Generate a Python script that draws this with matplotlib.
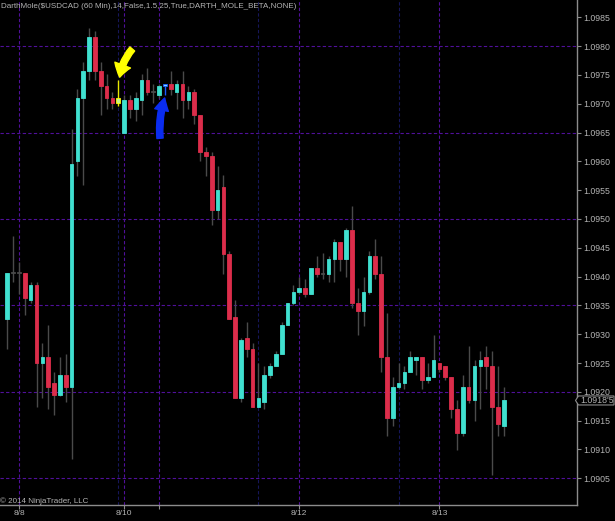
import matplotlib
matplotlib.use('Agg')
import matplotlib.pyplot as plt
from matplotlib.patches import Polygon
import numpy as np

plt.rcParams['font.family'] = ['Liberation Sans', 'DejaVu Sans']

# 60 min USDCAD bars
opens = [1.09326, 1.09406, 1.09406, 1.09406, 1.09359, 1.09385, 1.09250, 1.09260, 1.09215, 1.09194,
         1.09230, 1.09209, 1.09600, 1.09710, 1.09756, 1.09816, 1.09756, 1.09731, 1.09710, 1.09701,
         1.09650, 1.09706, 1.09691, 1.09706, 1.09741, 1.09721, 1.09715, 1.09731, 1.09735, 1.09721,
         1.09735, 1.09706, 1.09721, 1.09681, 1.09616, 1.09610, 1.09516, 1.09555, 1.09440, 1.09330,
         1.09189, 1.09294, 1.09274, 1.09173, 1.09183, 1.09230, 1.09245, 1.09265, 1.09316, 1.09355,
         1.09374, 1.09380, 1.09369, 1.09415, 1.09405, 1.09405, 1.09430, 1.09460, 1.09430, 1.09481,
         1.09355, 1.09340, 1.09374, 1.09436, 1.09405, 1.09260, 1.09154, 1.09209, 1.09215, 1.09235,
         1.09256, 1.09260, 1.09220, 1.09225, 1.09250, 1.09245, 1.09225, 1.09170, 1.09129, 1.09209,
         1.09185, 1.09245, 1.09260, 1.09245, 1.09174, 1.09140]
highs = [1.09406, 1.09471, 1.09426, 1.09406, 1.09390, 1.09390, 1.09285, 1.09316, 1.09235, 1.09260,
         1.09265, 1.09656, 1.09725, 1.09772, 1.09831, 1.09827, 1.09772, 1.09751, 1.09721, 1.09741,
         1.09715, 1.09715, 1.09721, 1.09751, 1.09762, 1.09735, 1.09735, 1.09735, 1.09757, 1.09741,
         1.09757, 1.09731, 1.09725, 1.09681, 1.09625, 1.09616, 1.09592, 1.09576, 1.09445, 1.09359,
         1.09294, 1.09321, 1.09285, 1.09250, 1.09245, 1.09250, 1.09270, 1.09321, 1.09355, 1.09385,
         1.09400, 1.09395, 1.09415, 1.09436, 1.09441, 1.09436, 1.09465, 1.09460, 1.09485, 1.09522,
         1.09380, 1.09400, 1.09445, 1.09465, 1.09436, 1.09336, 1.09225, 1.09250, 1.09245, 1.09270,
         1.09260, 1.09260, 1.09250, 1.09299, 1.09250, 1.09245, 1.09225, 1.09185, 1.09230, 1.09279,
         1.09256, 1.09270, 1.09279, 1.09270, 1.09245, 1.09209]
lows = [1.09274, 1.09390, 1.09369, 1.09334, 1.09355, 1.09173, 1.09189, 1.09170, 1.09160, 1.09193,
        1.09183, 1.09084, 1.09574, 1.09559, 1.09741, 1.09741, 1.09681, 1.09691, 1.09691, 1.09696,
        1.09650, 1.09676, 1.09670, 1.09680, 1.09715, 1.09701, 1.09710, 1.09715, 1.09715, 1.09691,
        1.09676, 1.09691, 1.09665, 1.09600, 1.09574, 1.09490, 1.09500, 1.09404, 1.09326, 1.09189,
        1.09183, 1.09260, 1.09173, 1.09173, 1.09170, 1.09224, 1.09245, 1.09265, 1.09316, 1.09350,
        1.09369, 1.09365, 1.09369, 1.09400, 1.09395, 1.09390, 1.09390, 1.09410, 1.09400, 1.09345,
        1.09299, 1.09314, 1.09369, 1.09395, 1.09235, 1.09123, 1.09140, 1.09205, 1.09205, 1.09235,
        1.09230, 1.09205, 1.09215, 1.09225, 1.09235, 1.09220, 1.09154, 1.09099, 1.09123, 1.09180,
        1.09149, 1.09170, 1.09205, 1.09055, 1.09123, 1.09123]
closes = [1.09406, 1.09406, 1.09406, 1.09363, 1.09385, 1.09250, 1.09260, 1.09209, 1.09194, 1.09230,
          1.09209, 1.09596, 1.09710, 1.09756, 1.09816, 1.09756, 1.09731, 1.09710, 1.09701, 1.09710,
          1.09706, 1.09691, 1.09710, 1.09741, 1.09721, 1.09721, 1.09731, 1.09735, 1.09725, 1.09735,
          1.09706, 1.09721, 1.09680, 1.09616, 1.09610, 1.09516, 1.09551, 1.09440, 1.09326, 1.09189,
          1.09290, 1.09274, 1.09173, 1.09189, 1.09230, 1.09245, 1.09265, 1.09316, 1.09355, 1.09374,
          1.09380, 1.09369, 1.09415, 1.09405, 1.09405, 1.09430, 1.09460, 1.09430, 1.09481, 1.09355,
          1.09340, 1.09374, 1.09436, 1.09405, 1.09260, 1.09154, 1.09209, 1.09215, 1.09235, 1.09260,
          1.09260, 1.09220, 1.09225, 1.09256, 1.09240, 1.09225, 1.09170, 1.09129, 1.09209, 1.09185,
          1.09245, 1.09256, 1.09245, 1.09174, 1.09144, 1.09185]

yellow_bar = 19
blue_bar = 27
last_price = 1.09185

date_ticks = [2, 20, 26, 50, 74]
date_labels = ['8/8', '8/10', '', '8/12', '8/13']
session_lines = [19, 43, 67]

bg = '#000000'
up_col = '#40e0d0'
dn_col = '#dc2d4b'
wick_col = '#4a4a4a'
grid_col = '#50109a'
sess_col = '#16165a'
txt_col = '#b4b4b4'
axis_col = '#8c8c8c'

fig = plt.figure(figsize=(6.15, 5.21), dpi=100, facecolor=bg)
ax = fig.add_axes([0, 16 / 521, 577 / 615, 505 / 521])
ax.set_facecolor(bg)

n = len(opens)
x = np.arange(n)
o = np.array(opens)
h = np.array(highs)
l = np.array(lows)
c = np.array(closes)

# grid
for yv in np.arange(1.0905, 1.0981, 0.0015):
    ax.axhline(yv, color=grid_col, lw=0.8, ls=(0, (3, 2)), zorder=0)
for xv in session_lines:
    ax.axvline(xv, color=sess_col, lw=0.8, ls=(0, (3, 2)), zorder=0)
for xv in date_ticks:
    ax.axvline(xv, color=grid_col, lw=0.8, ls=(0, (3, 2)), zorder=0)

# candles
wcols = [wick_col] * n
wcols[yellow_bar] = '#e8e800'
wcols[blue_bar] = '#1a5cff'
ax.vlines(x, l, h, colors=wcols, lw=1.0, zorder=2)

cols = np.where(c > o, up_col, np.where(c < o, dn_col, wick_col)).tolist()
edges = list(cols)
cols[yellow_bar] = '#c8f08c'
edges[yellow_bar] = '#ffff00'
cols[blue_bar] = '#7fd4ff'
edges[blue_bar] = '#1a5cff'
body = np.maximum(np.abs(c - o), 0.000012)
bottom = np.minimum(o, c)
ax.bar(x, body, bottom=bottom, width=0.62, color=cols, edgecolor=edges,
       linewidth=0.6, zorder=3)

# hand drawn arrows
ax.annotate('', xy=(19.25, 1.09746), xytext=(21.4, 1.09795),
            arrowprops=dict(arrowstyle='simple,head_length=0.9,head_width=1.2,tail_width=0.45',
                            color='#ffff00', mutation_scale=10,
                            connectionstyle='arc3,rad=0.15', shrinkA=0, shrinkB=0),
            zorder=5)
ax.annotate('', xy=(26.95, 1.09710), xytext=(26.15, 1.09640),
            arrowprops=dict(arrowstyle='simple,head_length=0.9,head_width=1.0,tail_width=0.45',
                            color='#0a2cf0', mutation_scale=10,
                            connectionstyle='arc3,rad=-0.1', shrinkA=0, shrinkB=0),
            zorder=5)

ax.set_xlim(-1.25, 97.55)
ax.set_ylim(1.090036, 1.0988)

for s in ['left', 'top']:
    ax.spines[s].set_visible(False)
for s in ['right', 'bottom']:
    ax.spines[s].set_color(axis_col)
    ax.spines[s].set_linewidth(1.0)

ax.yaxis.tick_right()
yt = np.arange(1.0905, 1.09851, 0.0005)
ax.set_yticks(yt)
ax.set_yticklabels(['%.4f' % v for v in yt])
ax.set_xticks(date_ticks)
ax.set_xticklabels(date_labels)
ax.tick_params(axis='y', colors=axis_col, labelcolor=txt_col, labelsize=6.3,
               length=3, width=0.8, pad=1.5)
ax.tick_params(axis='x', colors=axis_col, labelcolor=txt_col, labelsize=6.0,
               length=3, width=0.8, pad=0.5)

# last price marker on the axis
y_last = ax.transData.transform((0, last_price))[1]
fy = y_last / fig.bbox.height
px = 1 / 615
py = 1 / 521
marker = Polygon([(575.5 * px, fy), (578.5 * px, fy + 4.5 * py), (614 * px, fy + 4.5 * py),
                  (614 * px, fy - 4.5 * py), (578.5 * px, fy - 4.5 * py)],
                 closed=True, transform=fig.transFigure, facecolor=bg,
                 edgecolor=axis_col, lw=0.8, zorder=10)
fig.patches.append(marker)
p = '%.5f' % last_price
fig.text(580 * px, fy, p[:6] + "'" + p[6:], color=txt_col, fontsize=6.3,
         va='center', ha='left', zorder=11)

fig.text(1 * px, 1 - 7 * py,
         'DarthMole($USDCAD (60 Min),14,False,1.5,25,True,DARTH_MOLE_BETA,NONE)',
         color=txt_col, fontsize=5.8, va='center', ha='left')
fig.text(0, 1 - 501 * py, '\u00a9 2014 NinjaTrader, LLC', color=txt_col,
         fontsize=5.8, va='center', ha='left')

fig.savefig('out.png', dpi=100, facecolor=bg)
